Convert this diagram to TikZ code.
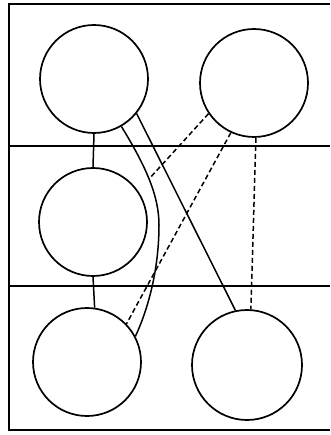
\documentclass[tikz,border=0pt]{standalone}
\begin{document}
\begin{tikzpicture}[x=1pt,y=-1pt,
  ring/.style={draw,circle,line width=1.7pt,inner sep=0pt,minimum size=108pt},
  frameline/.style={line width=1.6pt},
  link/.style={line width=1.5pt},
  dlink/.style={line width=1.5pt,dash pattern=on 5pt off 3pt}]
\useasboundingbox (0,0) rectangle (330,435);
% frame
\draw[frameline] (330,4) -- (9,4) -- (9,430) -- (330,430);
\draw[frameline] (9,146) -- (330,146);
\draw[frameline] (9,286) -- (330,286);
% circles
\node[ring,fill=white] (c1) at (94,79) {};
\node[ring,fill=white] (c2) at (254,83) {};
\node[ring,fill=white] (c3) at (93,222) {};
\node[ring,fill=white] (c4) at (87,362) {};
\node[ring,fill=white,minimum size=110pt] (c5) at (247,365) {};
% connectors
\draw[link] (c1.south) -- (c3.north);
\draw[link] (c3.south) -- (c4.82);
\draw[link] (c1.321) -- (c5.102);
\draw[link] (c1.300) .. controls (145,165) and (159,195) .. (159,225)
  coordinate[pos=0.5] (j) .. controls (159,265) and (150,305) .. (c4.28);
\draw[dlink] (c2.214) -- (j);
\draw[dlink] (c2.245) -- (c4.44);
\draw[dlink] (c2.272) -- (c5.86);
\end{tikzpicture}
\end{document}
